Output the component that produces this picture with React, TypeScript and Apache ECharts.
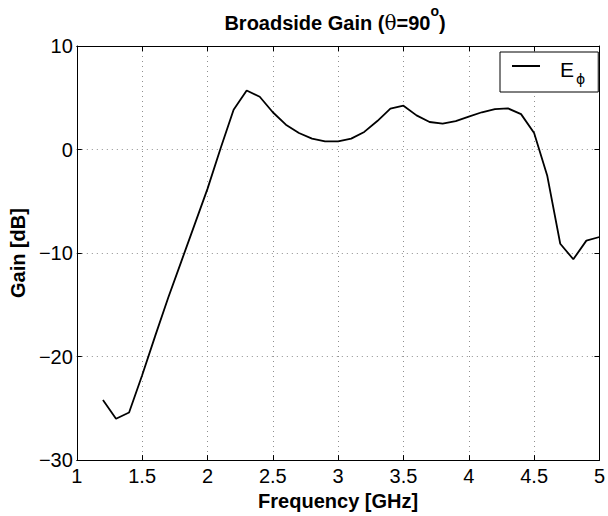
import React, { useEffect, useRef } from "react";
import * as echarts from "echarts";

const frequencies = [
  1.2, 1.3, 1.4, 1.5, 1.6, 1.7, 1.8, 1.9, 2.0, 2.1, 2.2, 2.3, 2.4, 2.5, 2.6, 2.7, 2.8, 2.9, 3.0, 3.1,
  3.2, 3.3, 3.4, 3.5, 3.6, 3.7, 3.8, 3.9, 4.0, 4.1, 4.2, 4.3, 4.4, 4.5, 4.6, 4.7, 4.8, 4.9, 5.0,
];
const gainEphi = [
  -24.2, -26.0, -25.4, -21.8, -18.0, -14.3, -10.8, -7.3, -3.8, 0.1, 3.85, 5.7, 5.1, 3.6, 2.4, 1.6, 1.05, 0.78, 0.78, 1.05,
  1.7, 2.75, 3.95, 4.23, 3.3, 2.66, 2.5, 2.75, 3.18, 3.6, 3.9, 3.97, 3.42, 1.6, -2.5, -9.1, -10.6, -8.8, -8.45,
];
const xTicks = { min: 1, max: 5, interval: 0.5 };
const yTicks = { min: -30, max: 10, interval: 10 };
const seriesName = "Eϕ";

const FONT = "'Liberation Sans', Arial, Helvetica, sans-serif";

export default function App() {
  const ref = useRef<HTMLDivElement>(null);
  useEffect(() => {
    document.body.style.margin = "0";
    const chart = echarts.init(ref.current!, null, { renderer: "svg" });
    const gridLine = { show: true, lineStyle: { color: "#8f8f8f", width: 1, type: [1, 4] as any } };
    const tick = { show: true, inside: true, length: 5, lineStyle: { color: "#000", width: 1 } };
    const line = { show: true, onZero: false, lineStyle: { color: "#000", width: 1 } };
    const label = { color: "#000", fontSize: 20, fontFamily: FONT };
    chart.setOption({
      animation: false,
      backgroundColor: "#fff",
      title: {
        text: "{b|Broadside Gain (}{t|θ}{b|=90}{s|o}{b|)}",
        left: 330,
        textAlign: "center",
        top: 2,
        textStyle: {
          rich: {
            b: { fontSize: 20, fontWeight: "bold", fontFamily: FONT, color: "#000", verticalAlign: "bottom", lineHeight: 26 },
            t: { fontSize: 20, fontWeight: "normal", fontFamily: "'DejaVu Serif', serif", color: "#000", verticalAlign: "bottom", lineHeight: 26 },
            s: { fontSize: 14, fontWeight: "bold", fontFamily: FONT, color: "#000", verticalAlign: "bottom", lineHeight: 26, padding: [0, 0, 15, 0] },
          },
        },
      },
      legend: {
        left: 500,
        top: 52,
        orient: "vertical",
        backgroundColor: "#fff",
        borderColor: "#000",
        borderWidth: 1,
        borderRadius: 0,
        padding: [7, 13, 6, 12],
        icon: "rect",
        itemWidth: 28,
        itemHeight: 2,
        data: [seriesName],
        formatter: () => "{g|}{e|E}{p|ϕ}",
        textStyle: {
          rich: {
            g: { width: 15 },
            e: { fontSize: 21, fontFamily: FONT, color: "#000", verticalAlign: "bottom", lineHeight: 28 },
            p: { fontSize: 14, fontFamily: "'DejaVu Sans', sans-serif", color: "#000", verticalAlign: "bottom", lineHeight: 22, padding: [0, 0, -6, 2] },
          },
        },
      },
      grid: { left: 72, right: 8, top: 46, bottom: 53, containLabel: false },
      xAxis: [
        {
          type: "value",
          position: "bottom",
          ...xTicks,
          name: "Frequency [GHz]",
          nameLocation: "middle",
          nameGap: 28,
          nameTextStyle: { fontSize: 20, fontWeight: "bold", fontFamily: FONT, color: "#000", verticalAlign: "top" },
          axisLine: line,
          axisTick: tick,
          axisLabel: { ...label, margin: 6, formatter: (v: number) => String(v) },
          splitLine: gridLine,
        },
        {
          type: "value",
          position: "top",
          ...xTicks,
          axisLine: line,
          axisTick: tick,
          axisLabel: { show: false },
          splitLine: { show: false },
        },
      ],
      yAxis: [
        {
          type: "value",
          position: "left",
          ...yTicks,
          name: "Gain [dB]",
          nameLocation: "middle",
          nameGap: 33,
          nameTextStyle: { fontSize: 20, fontWeight: "bold", fontFamily: FONT, color: "#000" },
          axisLine: line,
          axisTick: tick,
          axisLabel: { ...label, margin: 4, formatter: (v: number) => (v < 0 ? "\u2212" + Math.abs(v) : String(v)) },
          splitLine: gridLine,
        },
        {
          type: "value",
          position: "right",
          ...yTicks,
          axisLine: line,
          axisTick: tick,
          axisLabel: { show: false },
          splitLine: { show: false },
        },
      ],
      series: [
        {
          name: seriesName,
          type: "line",
          xAxisIndex: 0,
          yAxisIndex: 0,
          data: frequencies.map((f, i) => [f, gainEphi[i]]),
          symbol: "none",
          lineStyle: { color: "#000", width: 1.8 },
          itemStyle: { color: "#000" },
        },
      ],
    });
    return () => chart.dispose();
  }, []);
  return <div ref={ref} style={{ width: 608, height: 516 }} />;
}
